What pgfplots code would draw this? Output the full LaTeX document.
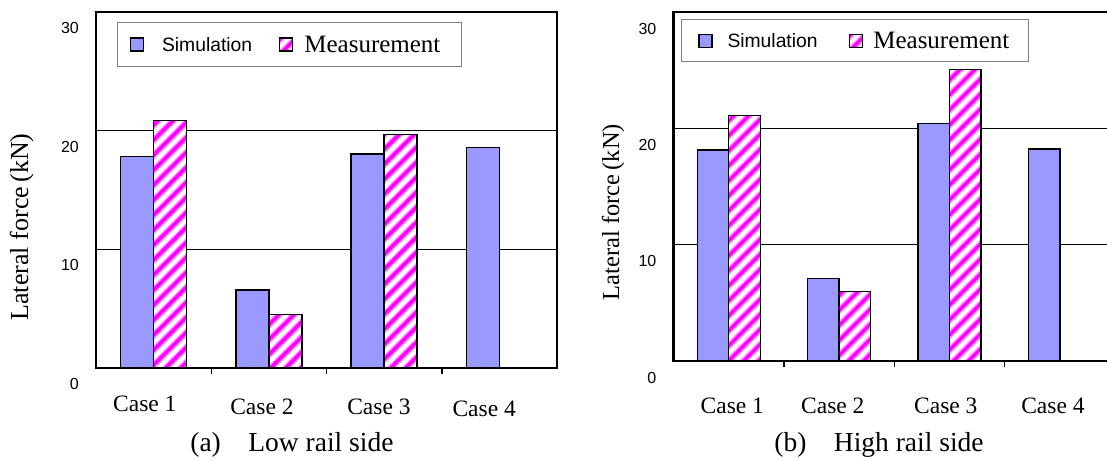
\documentclass[border=0pt]{standalone}
\usepackage{pgfplots}
\pgfplotsset{compat=1.18}
\usepackage{fontspec}
\setmainfont{Liberation Serif}
\newfontfamily\arial{Liberation Sans}
\definecolor{simc}{HTML}{9999FF}
\definecolor{mag}{HTML}{FF00FF}
\definecolor{magl}{HTML}{FF99FF}
\pgfplotsset{
  mybase/.style={
    scale only axis,
    ybar=0pt,
    ymin=0, ymax=30, ytick={0,10,20,30},
    ymajorgrids, grid style={black, line width=0.9pt},
    axis line style={line width=2.2pt},
    major tick length=0pt,
    minor xtick={0.5,1.5,2.5},
    minor tick length=6pt,
    every minor tick/.append style={line width=1.5pt, black},
    xtick pos=left, ytick pos=left,
    xtick={0,1,2,3},
    yticklabel style={font=\arial\fontsize{16}{16}\selectfont, inner sep=0pt, xshift=-17pt},
    /pgf/number format/assume math mode=true,
    xticklabel style={font=\fontsize{23.5}{24}\selectfont, anchor=base, inner sep=0pt},
    legend image code/.code={\draw[##1, line width=1.2pt] (0pt,-6.5pt) rectangle (13pt,6.5pt);},
    legend columns=2,
    legend style={draw=gray, line width=1pt, fill=white, anchor=north west,
      font=\fontsize{25}{25}\selectfont,
      nodes={inner sep=0pt, text depth=0pt},
      /tikz/every even column/.append style={column sep=0pt}},
    ylabel={Lateral force\,(kN)},
  },
  simbar/.style={fill=simc, draw=black, line width=1.3pt},
  measbar/.style={fill=white, draw=black, line width=1.3pt,
    path picture={%
      \begin{scope}[path picture={}, fill=none, shift={(rel axis cs:0,0)}]
      \foreach \k in {0,...,60}{%
        \draw[path picture={}, fill=none, magl, line width=6.5pt] (\k*15pt-420pt,-10pt) -- ++(520pt,520pt);
        \draw[path picture={}, fill=none, mag, line width=3.5pt] (\k*15pt-420pt,-10pt) -- ++(520pt,520pt);
      }%
      \end{scope}%
    }},
}
\begin{document}
\begin{tikzpicture}
\useasboundingbox (0,0) rectangle (1107pt,-460pt);
% ---------- (a) Low rail side ----------
\begin{axis}[mybase,
  at={(96pt,-367.7pt)}, anchor=south west,
  width=461pt, height=355.4pt,
  xmin=-0.5, xmax=3.5, bar width=33pt,
  yticklabel style={yshift=-16pt},
  xticklabels={{Case 1\hspace*{17.6pt}},{\raisebox{-3pt}{Case 2}\hspace*{13.8pt}},{\raisebox{-3pt}{Case 3}\hspace*{10.4pt}},{\raisebox{-5pt}{Case 4}\hspace*{30.4pt}}},
  xticklabel style={yshift=-43.3pt},
  legend style={at={(0.045,0.9735)}, inner xsep=12.6pt, inner ysep=14pt},
  ylabel style={at={(axis description cs:-0.1612,0.396)}, anchor=center, font=\fontsize{26}{26}\selectfont},
  xlabel={(a)\hspace{1em}Low rail side},
  xlabel style={at={(axis description cs:0.425,-0.2175)}, anchor=center, font=\fontsize{27.5}{28}\selectfont},
]
\addplot[simbar] coordinates {(0,17.8) (1,6.55) (2,18.05) (3,18.6)};
\addplot[measbar] coordinates {(0,20.85) (1,4.48) (2,19.7)};
\addlegendentry{\hspace*{18pt}{\arial\fontsize{19.3}{19.3}\selectfont Simulation}\hspace*{27pt}}
\addlegendentry{\hspace*{11pt}Measurement\hspace*{8.4pt}}
\end{axis}
% ---------- (b) High rail side ----------
\begin{axis}[mybase,
  at={(673.5pt,-361pt)}, anchor=south west,
  width=441.6pt, height=348.7pt,
  xmin=-0.5, xmax=3.5, bar width=31.5pt,
  yticklabel style={yshift=-16.5pt},
  xticklabels={{\hspace*{7.2pt}Case 1},{Case 2\hspace*{12.6pt}},{Case 3\hspace*{7.4pt}},{Case 4\hspace*{14pt}}},
  xticklabel style={yshift=-52pt},
  legend style={at={(0.0179,0.9808)}, inner xsep=16.4pt, inner ysep=13pt},
  ylabel style={at={(axis description cs:-0.137,0.4273)}, anchor=center, font=\fontsize{24.5}{25}\selectfont},
  xlabel={(b)\hspace{1em}High rail side},
  xlabel style={at={(axis description cs:0.4654,-0.241)}, anchor=center, font=\fontsize{27.5}{28}\selectfont},
]
\addplot[simbar] coordinates {(0,18.15) (1,7.1) (2,20.45) (3,18.25)};
\addplot[measbar] coordinates {(0,21.1) (1,5.95) (2,25.1)};
\addlegendentry{\hspace*{15pt}{\arial\fontsize{19.3}{19.3}\selectfont Simulation}\hspace*{31.5pt}}
\addlegendentry{\hspace*{10pt}Measurement\hspace*{2.6pt}}
\end{axis}
\end{tikzpicture}
\end{document}
